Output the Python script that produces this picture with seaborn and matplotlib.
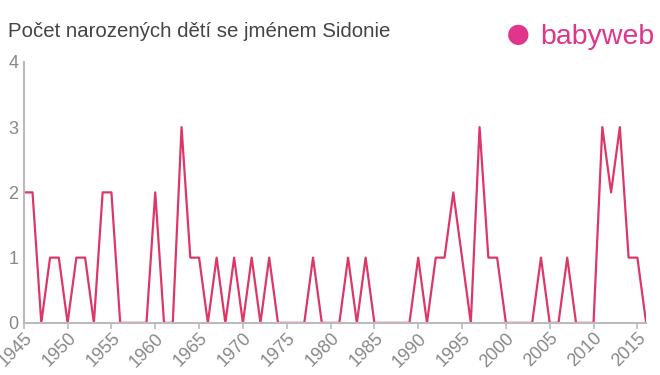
import pandas as pd
from matplotlib import pyplot as plt
import seaborn as sns

# Data
years = list(range(1945, 2017))
counts = [2, 2, 0, 1, 1, 0, 1, 1, 0, 2,
          2, 0, 0, 0, 0, 2, 0, 0, 3, 1,
          1, 0, 1, 0, 1, 0, 1, 0, 1, 0,
          0, 0, 0, 1, 0, 0, 0, 1, 0, 1,
          0, 0, 0, 0, 0, 1, 0, 1, 1, 2,
          1, 0, 3, 1, 1, 0, 0, 0, 0, 1,
          0, 0, 1, 0, 0, 0, 3, 2, 3, 1,
          1, 0]
x_ticks = list(range(1945, 2020, 5))
y_ticks = [0, 1, 2, 3, 4]

title = 'Počet narozených dětí se jménem Sidonie'

sns.set_style('white')
plt.rcParams['font.family'] = ['Liberation Sans', 'DejaVu Sans']

df = pd.DataFrame({'year': years, 'count': counts})

fig = plt.figure(figsize=(6.6, 3.75), dpi=100)
ax = fig.add_axes([0.036, 0.139, 0.943, 0.696])

sns.lineplot(data=df, x='year', y='count', ax=ax, color='#dc3768',
             linewidth=1.6)

ax.set_xlim(1945, 2016)
ax.set_ylim(0, 4)
ax.set_xticks(x_ticks)
ax.set_yticks(y_ticks)
ax.set_xlabel('')
ax.set_ylabel('')

grey = '#888888'
for side in ['top', 'right']:
    ax.spines[side].set_visible(False)
for side in ['left', 'bottom']:
    ax.spines[side].set_color('#bbbbbb')
    ax.spines[side].set_linewidth(1.5)

ax.tick_params(axis='x', colors='#bbbbbb', labelcolor=grey, length=4,
               width=1.2, labelsize=13, pad=1, bottom=True)
ax.tick_params(axis='y', colors='#bbbbbb', labelcolor=grey, length=0,
               labelsize=13, pad=4)
plt.setp(ax.get_xticklabels(), rotation=45, ha='right',
         rotation_mode='anchor')

fig.text(0.012, 0.915, title, fontsize=14.7, color='#444444', va='center')

# babyweb logo
fig.text(0.785, 0.905, '\u25CF', fontsize=34, color='#e0358a',
         va='center', ha='center')
fig.text(0.818, 0.900, 'babyweb', fontsize=20.5, color='#e0358a',
         va='center', ha='left')

fig.savefig('out.png', dpi=100)
